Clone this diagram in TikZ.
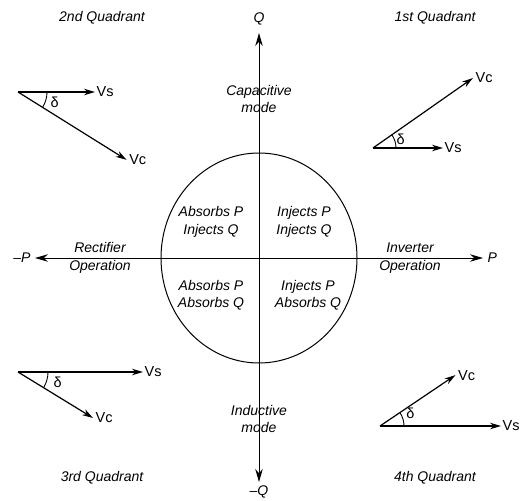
\documentclass[tikz,border=0pt]{standalone}
\usepackage{fontspec}
\setmainfont{Liberation Sans}
\usetikzlibrary{arrows.meta,positioning,calc}
\tikzset{axis/.style={-{Stealth[length=13pt,width=7.5pt]},line width=1pt},
phasor/.style={-{Stealth[length=11pt,width=6.5pt]},line width=1.2pt},
lab/.style={font=\itshape\fontsize{14}{17.5}\selectfont,align=center},
ttl/.style={font=\itshape\fontsize{14}{17}\selectfont},
vlab/.style={font=\fontsize{14.5}{16}\selectfont,inner sep=1.5pt}}
\begin{document}
\begin{tikzpicture}[x=1pt,y=-1pt]
\useasboundingbox (0,0) rectangle (524,500);
% axes and circle
\coordinate (o) at (259,258);
\coordinate (pR) at (483,258);
\coordinate (pL) at (35,258);
\coordinate (qU) at (259,33);
\coordinate (qD) at (259,482);
\draw[line width=1pt] (o) ellipse [x radius=98pt,y radius=105pt];
\draw[axis] (o)--(pR);
\draw[axis] (o)--(pL);
\draw[axis] (o)--(qU);
\draw[axis] (o)--(qD);
\node[lab,right=1pt of pR] (P) {P};
\node[lab,left=1pt of pL] (mP) {--P};
\node[lab,above=4pt of qU] (Q) {Q};
\node[lab,below=0pt of qD] (mQ) {--Q};
\node[lab] (cap) at (259,99) {Capacitive\\mode};
\node[lab] (ind) at (259,419) {Inductive\\mode};
\node[lab] (rect) at (100,258) {Rectifier\\Operation};
\node[lab] (inv) at (410,258) {Inverter\\Operation};
\node[lab] (q2in) at (211,222) {Absorbs P\\Injects Q};
\node[lab] (q1in) at (304,222) {Injects P\\Injects Q};
\node[lab] (q3in) at (211,295) {Absorbs P\\Absorbs Q};
\node[lab] (q4in) at (308,295) {Injects P\\Absorbs Q};
\node[ttl] (t2) at (102,18) {2nd Quadrant};
\node[ttl] (t1) at (435,18) {1st Quadrant};
\node[ttl] (t3) at (102,478) {3rd Quadrant};
\node[ttl] (t4) at (435,478) {4th Quadrant};
% phasor diagrams: origin / Vs length / Vc angle / Vc length / arc radius / delta angle / delta distance
\foreach \ox/\oy/\s/\a/\c/\r/\da/\dd [count=\i] in {18/92/77/-32/128/29/-15/38,373/148/70/35/122/23/17/29,18/372/125/-31.5/88/30/-15/41,380/426/121/34/91/24/23/33}{
  \coordinate (o\i) at (\ox,\oy);
  \coordinate (vs\i) at ($(o\i)+(0:\s pt)$);
  \coordinate (vc\i) at ($(o\i)+(\a:\c pt)$);
  \draw[phasor] (o\i)--(vs\i);
  \draw[phasor] (o\i)--(vc\i);
  \draw[line width=.9pt] ($(o\i)+(0:\r pt)$) arc[start angle=0,end angle=\a,radius=\r pt];
  \node[vlab,right=0pt of vs\i] (ls\i) {Vs};
  \node[vlab,right=1pt of vc\i] (lc\i) {Vc};
  \node[vlab] (d\i) at ($(o\i)+(\da:\dd pt)$) {δ};
}
\end{tikzpicture}
\end{document}
